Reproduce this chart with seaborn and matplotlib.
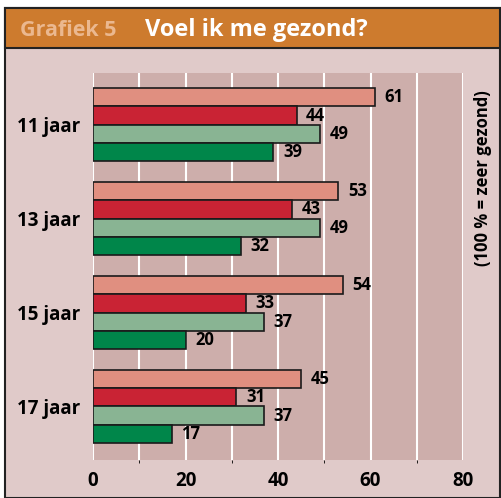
import pandas as pd
import numpy as np
import seaborn as sns
import matplotlib.pyplot as plt
from matplotlib.patches import Rectangle

# Data
leeftijden = ["11 jaar", "13 jaar", "15 jaar", "17 jaar"]
reeksen = ["A", "B", "C", "D"]
waarden = {
    "A": [61, 53, 54, 45],
    "B": [44, 43, 33, 31],
    "C": [49, 49, 37, 37],
    "D": [39, 32, 20, 17],
}
kleuren = ["#e08f80", "#c92334", "#89b493", "#00864a"]
ticks_x = [0, 20, 40, 60, 80]

rows = []
for r in reeksen:
    for lf, v in zip(leeftijden, waarden[r]):
        rows.append({"leeftijd": lf, "reeks": r, "waarde": v})
df = pd.DataFrame(rows)

W, H = 501, 498
fig = plt.figure(figsize=(W / 100, H / 100), dpi=100)
fig.patch.set_facecolor("white")

# background panel and border
fig.add_artist(Rectangle((5 / W, 0), 495 / W, (H - 8) / H, transform=fig.transFigure,
                         facecolor="#e0cac9", edgecolor="#222222", linewidth=1.5, zorder=0))
fig.add_artist(Rectangle((5 / W, (H - 48) / H), 495 / W, 40 / H, transform=fig.transFigure,
                         facecolor="#cd7b2e", edgecolor="#222222", linewidth=1.5, zorder=1))
fig.text(20 / W, (H - 30) / H, "Grafiek 5", color="#ebb88f", fontsize=15.5,
         fontweight="bold", family="Open Sans", va="center", ha="left")
fig.text(145 / W, (H - 30) / H, "Voel ik me gezond?", color="white", fontsize=17,
         fontweight="bold", family="Open Sans", va="center", ha="left")

ax = fig.add_axes([93 / W, (H - 460) / H, 370 / W, 387 / H])
ax.set_facecolor("#cdaeab")

sns.barplot(data=df, y="leeftijd", x="waarde", hue="reeks", order=leeftijden,
            hue_order=reeksen, palette=kleuren, orient="h", width=0.78, saturation=1,
            edgecolor="#1a1a1a", linewidth=1.2, legend=False, ax=ax, zorder=3)

for c in ax.containers:
    ax.bar_label(c, padding=7, fontsize=12, fontweight="bold", family="Open Sans")

ax.set_xlim(0, 80)
ax.set_ylim(3.57, -0.55)
ax.set_xticks(ticks_x)
ax.set_xticks(np.arange(0, 81, 10), minor=True)
ax.grid(axis="x", which="both", color="white", linewidth=1.5, zorder=1)
ax.set_axisbelow(True)
ax.tick_params(axis="both", length=0)
ax.tick_params(axis="x", pad=8)
ax.tick_params(axis="y", pad=9)
for lbl in ax.get_xticklabels() + ax.get_yticklabels():
    lbl.set_fontweight("bold")
    lbl.set_fontsize(13.5)
    lbl.set_family("Open Sans")
for s in ax.spines.values():
    s.set_visible(False)
ax.set_xlabel("")
ax.set_ylabel("")

fig.text(483 / W, (H - 178) / H, "(100 % = zeer gezond)", rotation=90, fontsize=12,
         fontweight="bold", family="Open Sans", va="center", ha="center")

fig.savefig("out.png", dpi=100)
